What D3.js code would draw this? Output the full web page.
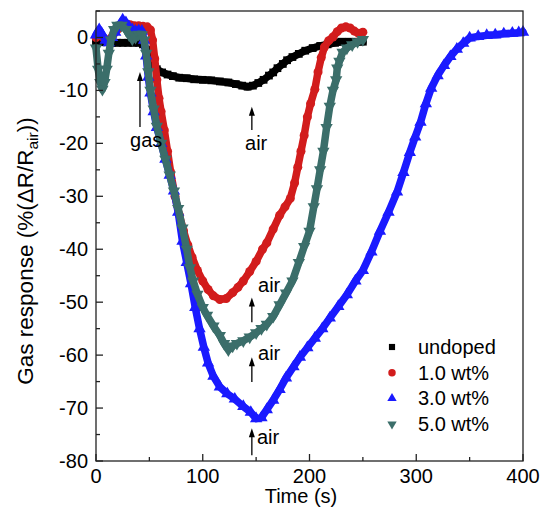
<!DOCTYPE html>
<html>
<head>
<meta charset="utf-8">
<script src="https://cdnjs.cloudflare.com/ajax/libs/d3/7.8.5/d3.min.js"></script>
<style>
body{margin:0;background:#fff}
svg{display:block}
text{font-family:"Liberation Sans",Arial,sans-serif;fill:#000}
</style>
</head>
<body>
<svg></svg>
<script>
// time (s), response (%)
var undoped = [[0,-0.8],[5,-0.9],[10,-0.9],[15,-1],[20,-1],[25,-1],[30,-1],[35,-1],[40,-1],[44,-1.3],[47,-2.3],[50,-4.3],[53,-5.4],[57,-6],[62,-6.6],[67,-7],[72,-7.3],[78,-7.6],[85,-7.7],[92,-7.9],[100,-8],[108,-8.1],[116,-8.3],[124,-8.5],[131,-8.8],[137,-9.1],[142,-9.3],[147,-9.1],[152,-8.6],[157,-8],[162,-7.2],[166,-6.6],[170,-5.8],[175,-5],[179,-4.3],[184,-3.7],[190,-3.1],[196,-2.5],[203,-2],[210,-1.6],[217,-1.3],[224,-1],[230,-0.8],[237,-0.8],[244,-0.8],[250,-0.8]];
var wt1 = [[0,0],[4,0.5],[8,-0.3],[12,-0.5],[16,0.5],[20,1.5],[24,2.3],[28,2.6],[32,2.4],[36,2.2],[40,2.2],[44,2.1],[48,2],[51,1.4],[53,-0.5],[55,-4],[57,-8],[59,-11.5],[61,-14],[64,-17.5],[67,-21.5],[70,-25.5],[74,-30],[78,-33.5],[82,-36.5],[86,-39.2],[90,-41.5],[95,-44],[100,-46],[105,-47.6],[110,-48.8],[116,-49.5],[122,-49.3],[128,-48.2],[133,-47.2],[138,-46],[144,-44.2],[150,-42.3],[156,-40],[160,-38.8],[166,-36.2],[172,-33.6],[177,-32],[182,-30.4],[186,-27.5],[189,-24.5],[192,-21.5],[195,-18.5],[198,-15],[201,-12.5],[205,-9.8],[208,-6.5],[211,-3.8],[214,-1.8],[218,-0.6],[222,0.1],[226,1.1],[230,1.8],[234,2],[238,1.8],[242,1.2],[246,0.8],[250,1]];
var wt3 = [[0,0.5],[3,1.5],[6,0.5],[9,-0.5],[12,-1],[15,0],[18,1],[21,2],[25,3.3],[28,2.8],[31,2],[34,1.5],[37,1.2],[40,1.3],[43,1.2],[45,-0.5],[47,-3.5],[49,-7.5],[51,-10.5],[54,-14],[57,-17],[61,-20],[65,-23],[69,-26],[73,-29],[77,-33],[81,-38.5],[85,-42.5],[89,-46.5],[93,-51],[97,-55],[101,-58.5],[105,-61.5],[110,-64],[116,-66],[123,-67.3],[130,-68.3],[138,-69.7],[145,-70.8],[150,-72],[155,-71.8],[160,-70.3],[166,-68.5],[172,-66.5],[178,-64.3],[185,-62.2],[191,-60.4],[198,-58.6],[205,-56.8],[212,-55],[219,-53],[227,-50.8],[235,-48.6],[243,-46],[250,-44],[258,-40.5],[266,-36.6],[274,-33],[282,-29.2],[288,-25.5],[294,-21.7],[299,-18.8],[304,-16],[309,-12.5],[314,-9.6],[320,-7.2],[326,-5.3],[332,-3.6],[338,-2.2],[344,-1.1],[350,-0.1],[358,0.2],[366,0.4],[374,0.5],[382,0.7],[390,0.8],[396,0.9],[400,1]];
var wt5 = [[0,-2],[2,-6],[4,-8.5],[6,-9.8],[8,-8.5],[10,-6],[12,-3],[14,-0.5],[17,1.5],[20,2.3],[24,2.3],[28,1.5],[31,0.5],[34,-0.3],[37,0],[40,0.6],[43,0.5],[45,-0.5],[47,-3],[49,-6.5],[51,-10],[54,-13.5],[57,-16.8],[61,-20],[65,-23],[69,-26],[73,-29],[77,-32.3],[81,-36],[85,-40],[88,-43.5],[91,-46],[95,-48.5],[100,-51],[104,-52.5],[110,-54.5],[116,-56.3],[120,-57.8],[124,-59],[128,-58.3],[132,-57.8],[138,-57.3],[144,-56.6],[150,-55.8],[155,-55],[160,-54.2],[166,-52.7],[172,-50.5],[178,-48.3],[184,-46],[190,-42.5],[195,-39.5],[200,-36.6],[204,-32],[207,-28.6],[210,-25],[213,-21.5],[216,-17],[219,-13],[222,-10],[225,-8],[226,-5.8],[228,-4.5],[231,-2.8],[235,-2],[240,-1.4],[245,-0.8],[250,-0.4]];

var seriesNames = ["undoped","1.0 wt%","3.0 wt%","5.0 wt%"];
var xTicks = [0,100,200,300,400];
var yTicks = [-80,-70,-60,-50,-40,-30,-20,-10,0];

var width = 543, height = 508;
var colors = ["#000000","#d21c1c","#1a1aff","#3b6e6a"];
var shapes = [d3.symbolSquare, d3.symbolCircle, d3.symbolTriangle, d3.symbolTriangle];
var rotate = [0,0,0,180];

var svg = d3.select("svg").attr("width", width).attr("height", height);

var x = d3.scaleLinear().domain([0,400]).range([96,523]);
var y = d3.scaleLinear().domain([-80,5]).range([461,11]);

// series: thick band + markers
var allSeries = [undoped, wt1, wt3, wt5];
var line = d3.line().x(function(d){return x(d[0]);}).y(function(d){return y(d[1]);});

allSeries.forEach(function(s, i){
  var g = svg.append("g");
  g.append("path")
    .datum(s)
    .attr("d", line)
    .attr("fill","none")
    .attr("stroke", colors[i])
    .attr("stroke-width", 7.5)
    .attr("stroke-linejoin","round")
    .attr("stroke-linecap","round");
  g.selectAll("path.m")
    .data(s)
    .enter()
    .append("path")
    .attr("class","m")
    .attr("d", d3.symbol().type(shapes[i]).size(i==1 ? 64 : (i==0 ? 60 : 66)))
    .attr("transform", function(d){
      return "translate(" + x(d[0]) + "," + y(d[1]) + ") rotate(" + rotate[i] + ")";
    })
    .attr("fill", colors[i]);
});

// frame
svg.append("rect")
  .attr("x", 96).attr("y", 11)
  .attr("width", 427).attr("height", 450)
  .attr("fill","none").attr("stroke","#222").attr("stroke-width",1.3);

// ticks (inward)
var axisG = svg.append("g").attr("stroke","#222").attr("stroke-width",1.3);
d3.range(0,401,50).forEach(function(t){
  var len = t % 100 == 0 ? 7 : 4;
  axisG.append("line").attr("x1",x(t)).attr("x2",x(t)).attr("y1",461).attr("y2",461-len);
});
d3.range(-80,6,5).forEach(function(v){
  var len = v % 10 == 0 ? 7 : 4;
  axisG.append("line").attr("x1",96).attr("x2",96+len).attr("y1",y(v)).attr("y2",y(v));
});

svg.selectAll("text.xt")
  .data(xTicks).enter().append("text")
  .attr("class","xt")
  .attr("x", function(d){return x(d);})
  .attr("y", 483)
  .attr("text-anchor","middle")
  .attr("font-size", 20)
  .text(function(d){return d;});

svg.selectAll("text.yt")
  .data(yTicks).enter().append("text")
  .attr("class","yt")
  .attr("x", 88)
  .attr("y", function(d){return y(d) + 7;})
  .attr("text-anchor","end")
  .attr("font-size", 20)
  .text(function(d){return d;});

svg.append("text")
  .attr("x", 301).attr("y", 503)
  .attr("text-anchor","middle")
  .attr("font-size", 20)
  .text("Time (s)");

var ylab = svg.append("text")
  .attr("transform","translate(33,251) rotate(-90)")
  .attr("text-anchor","middle")
  .attr("font-size", 22.5);
ylab.append("tspan").text("Gas response (%(\u0394R/R");
ylab.append("tspan").attr("font-size",15.5).attr("dy",5).text("air");
ylab.append("tspan").attr("dy",-5).text("))");

// annotations: arrow at time t from v0 (tail) up to v1 (tip), label
var notes = [
  {t:41.2, v0:-16.9, v1:-6.5, label:"gas", lt:31.9, lv:-20.7},
  {t:146, v0:-17.5, v1:-13.1, label:"air", lt:139.6, lv:-21.3},
  {t:146, v0:-53.8, v1:-49.1, label:"air", lt:151.8, lv:-48.1},
  {t:146, v0:-65.1, v1:-60.4, label:"air", lt:151.8, lv:-61},
  {t:146, v0:-78.9, v1:-73.8, label:"air", lt:150.8, lv:-76.7}
];
notes.forEach(function(n){
  var ax = x(n.t), y0 = y(n.v0), y1 = y(n.v1);
  svg.append("line").attr("x1",ax).attr("x2",ax).attr("y1",y0).attr("y2",y1+6)
    .attr("stroke","#000").attr("stroke-width",1.3);
  svg.append("path")
    .attr("d","M" + ax + "," + y1 + " L" + (ax-3) + "," + (y1+9) + " L" + (ax+3) + "," + (y1+9) + "Z")
    .attr("fill","#000");
  svg.append("text").attr("x", x(n.lt)).attr("y", y(n.lv))
    .attr("font-size",20).text(n.label);
});

// legend
var leg = svg.append("g");
seriesNames.forEach(function(name, i){
  var cy = 347 + i*25.7;
  leg.append("path")
    .attr("d", d3.symbol().type(shapes[i]).size(i==1 ? 44 : 38))
    .attr("transform","translate(392," + cy + ") rotate(" + rotate[i] + ")")
    .attr("fill", colors[i]);
  leg.append("text").attr("x",418).attr("y",cy+7)
    .attr("font-size",20).text(name);
});
</script>
</body>
</html>
